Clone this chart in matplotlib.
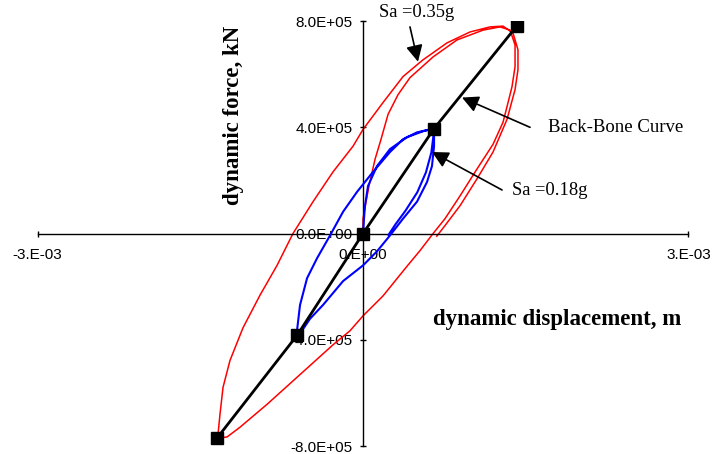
import matplotlib
matplotlib.use("Agg")
import matplotlib.pyplot as plt
import numpy as np

# units: displacement in 1e-3 m, force in 1e5 kN
DISP_SCALE = 1e-3
FORCE_SCALE = 1e5

# back-bone curve
bb_disp = [-1.344, -0.606, 0.0, 0.655, 1.417]
bb_force = [-7.69, -3.82, 0.0, 3.95, 7.81]

# Sa = 0.18g loop (blue)
sa18_disp = [0.0, 0.009, 0.018, 0.046, 0.129, 0.249, 0.406, 0.553, 0.655,
             0.655, 0.655, 0.636, 0.590, 0.498, 0.369, 0.249, 0.129, 0.0,
             -0.184, -0.369, -0.489, -0.563, -0.609,
             -0.609, -0.581, -0.516, -0.424, -0.304, -0.184, -0.055, 0.092,
             0.249, 0.369, 0.498, 0.618, 0.655,
             0.650, 0.630, 0.580, 0.500, 0.390, 0.300, 0.235]
sa18_force = [0.0, 0.56, 1.05, 1.79, 2.54, 3.18, 3.63, 3.85, 3.96,
              3.81, 3.29, 2.54, 1.94, 1.20, 0.56, -0.07, -0.67, -1.20,
              -1.79, -2.69, -3.21, -3.66, -3.81,
              -3.66, -2.69, -1.68, -0.93, -0.07, 0.82, 1.57, 2.32,
              3.07, 3.55, 3.81, 3.92, 3.96,
              3.70, 3.05, 2.30, 1.55, 0.85, 0.35, -0.05]

# Sa = 0.35g loop (red)
sa35_disp = [0.0, 0.0, 0.028, 0.055, 0.111, 0.166, 0.231, 0.323, 0.433,
             0.646, 0.867, 1.107, 1.263, 1.356, 1.402, 1.402, 1.374, 1.328,
             1.291, 1.199, 1.051, 0.895, 0.756, 0.646,
             0.526, 0.406, 0.184, 0.0, -0.120, -0.277, -0.581, -0.885,
             -1.134, -1.254, -1.337,
             -1.337, -1.319, -1.291, -1.227, -1.107, -0.950, -0.793, -0.646,
             -0.461, -0.277, -0.092, 0.0, 0.184, 0.369, 0.553, 0.775, 0.987,
             1.171, 1.291, 1.383, 1.429, 1.429, 1.402, 1.328, 1.199, 1.051,
             0.895, 0.756, 0.680]
sa35_force = [0.0, 0.56, 1.20, 1.79, 2.80, 3.55, 4.49, 5.23, 5.87,
              6.65, 7.29, 7.66, 7.78, 7.66, 7.10, 6.28, 5.53, 4.78,
              4.19, 3.36, 2.43, 1.42, 0.56, 0.0,
              -0.64, -1.23, -2.35, -3.10, -3.66, -4.19, -5.31, -6.43,
              -7.29, -7.66, -7.70,
              -7.55, -6.80, -5.79, -4.78, -3.55, -2.32, -1.20, 0.0,
              1.20, 2.32, 3.29, 3.92, 4.93, 5.91, 6.54, 7.18, 7.59,
              7.78, 7.81, 7.55, 6.92, 6.17, 5.42, 4.30, 3.07, 2.06,
              1.05, 0.30, -0.10]

xticks = [-3e-3, 0.0, 3e-3]
xtick_labels = ["-3.E-03", "0.E+00", "3.E-03"]
yticks = [-8e5, -4e5, 0.0, 4e5, 8e5]
ytick_labels = ["-8.0E+05", "-4.0E+05", "0.0E+00", "4.0E+05", "8.0E+05"]

serif = "Liberation Serif"
sans = "Liberation Sans"

fig = plt.figure(figsize=(7.13, 4.54), dpi=100)
ax = fig.add_axes([0.0529, 0.0176, 0.9125, 0.936])

ax.plot(np.array(sa35_disp) * DISP_SCALE, np.array(sa35_force) * FORCE_SCALE,
        color="#ff0000", lw=1.1, zorder=2)
ax.plot(np.array(sa18_disp) * DISP_SCALE, np.array(sa18_force) * FORCE_SCALE,
        color="#0000ff", lw=1.5, zorder=3)
ax.plot(np.array(bb_disp) * DISP_SCALE, np.array(bb_force) * FORCE_SCALE,
        color="black", lw=2.0, marker="s", markersize=8.5, zorder=4)

ax.set_xlim(-3e-3, 3e-3)
ax.set_ylim(-8e5, 8e5)
ax.spines["left"].set_position(("data", 0))
ax.spines["bottom"].set_position(("data", 0))
ax.spines["top"].set_visible(False)
ax.spines["right"].set_visible(False)
for s in ("left", "bottom"):
    ax.spines[s].set_linewidth(1.0)

ax.set_xticks(xticks)
ax.set_xticklabels(xtick_labels, family=sans, fontsize=11)
ax.set_yticks(yticks)
ax.set_yticklabels(ytick_labels, family=sans, fontsize=11)
ax.tick_params(axis="both", direction="inout", length=5, width=1.0)
ax.tick_params(axis="x", pad=8)
ax.tick_params(axis="y", pad=5)

ax.text(-1.19e-3, 4.45e5, "dynamic force, kN", rotation=90, ha="center",
        va="center", family=serif, fontweight="bold", fontsize=16.5)
ax.text(1.794e-3, -3.25e5, "dynamic displacement, m", ha="center",
        va="center", family=serif, fontweight="bold", fontsize=16.5)

arrow = dict(arrowstyle="-|>,head_length=0.55,head_width=0.28", color="black",
             lw=1.2, mutation_scale=18, shrinkA=0, shrinkB=0)
ax.text(0.498e-3, 8.34e5, "Sa =0.35g", ha="center", va="center",
        family=serif, fontsize=13.3, clip_on=False)
ax.annotate("", xy=(0.507e-3, 6.47e5), xytext=(0.433e-3, 7.78e5),
            arrowprops=arrow)
ax.text(1.706e-3, 4.0e5, "Back-Bone Curve", ha="left", va="center",
        family=serif, fontsize=13.5)
ax.annotate("", xy=(0.913e-3, 5.12e5), xytext=(1.540e-3, 4.0e5),
            arrowprops=arrow)
ax.text(1.374e-3, 1.61e5, "Sa =0.18g", ha="left", va="center",
        family=serif, fontsize=13.3)
ax.annotate("", xy=(0.636e-3, 3.07e5), xytext=(1.282e-3, 1.64e5),
            arrowprops=arrow)

fig.savefig("out.png", dpi=100)
